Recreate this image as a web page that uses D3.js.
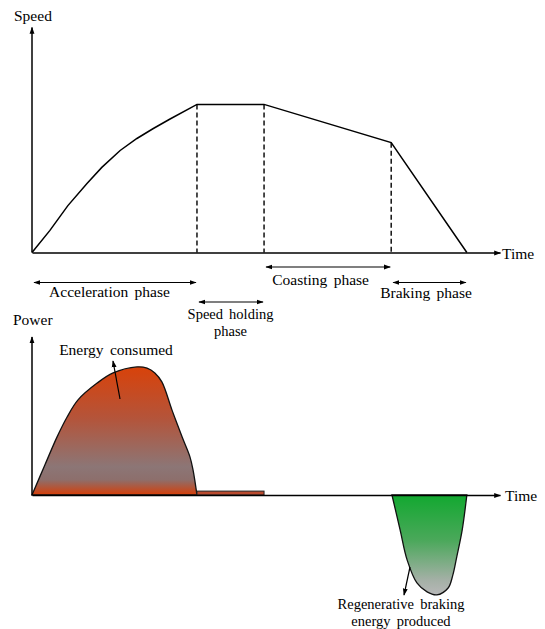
<!DOCTYPE html>
<html lang="en">
  <head>
    <meta charset="utf-8">
    <title>Speed and power phases</title>
    <script src="https://cdn.jsdelivr.net/npm/d3@7"></script>
    <style>
      body { margin: 0; background: #fff; }
      text { font-family: "Liberation Serif", "DejaVu Serif", serif; font-size: 15.5px; word-spacing: 2.5px; fill: #000; }
      text.two { font-size: 14.5px; }
    </style>
  </head>
  <body>
    <svg width="545" height="629" id="mainsvg"></svg>
    <script>
      // speed profile (time, speed)
      const speedTime = [0, 4.6, 9.2, 14.1, 17.9, 22.6, 26.9, 31, 35.4, 42.3, 59.5, 92.1, 111.5];
      const speedValue = [0, 5.9, 12.5, 18.4, 22.7, 27.2, 30.4, 33.0, 35.6, 39.5, 39.5, 29.3, 0];
      // phase boundaries drawn as dashed lines
      const boundaryTimes = [42.3, 59.5, 92.1];
      // phase spans
      const phaseNames = ['Acceleration phase', 'Speed holding|phase', 'Coasting phase', 'Braking phase'];
      const phaseStart = [0, 42.3, 59.5, 92.1];
      const phaseEnd = [42.3, 59.5, 92.1, 111.5];
      // power consumed during acceleration
      const accTime = [0, 3.3, 6.4, 9.0, 11.8, 16.7, 20.8, 26.9, 29.5, 31.5, 33.3, 35.9, 38.5, 40.5, 41.3, 42.3];
      const accPower = [0, 10, 19.3, 26, 31.7, 37.3, 40.7, 42.7, 42.3, 40.7, 37.7, 28.3, 19.3, 12.7, 8.3, 0];
      // power while holding speed
      const holdPower = 1.3;
      // regenerative braking power
      const brakeTime = [92.3, 94.4, 96.2, 98.7, 101.3, 103.8, 106.7, 107.9, 108.9, 110.3, 111.5];
      const brakePower = [0, -11.7, -21.7, -29.3, -32.3, -33.3, -31, -26.7, -20.7, -11.7, 0];
      // annotation texts
      const consumedLabel = ['Energy consumed'];
      const producedLabel = ['Regenerative braking', 'energy produced'];

      const svg = d3.select('#mainsvg');
      const defs = svg.append('defs');

      defs.append('marker')
        .attr('id', 'head')
        .attr('viewBox', '0 0 10 10')
        .attr('refX', 9).attr('refY', 5)
        .attr('markerWidth', 7).attr('markerHeight', 7)
        .attr('markerUnits', 'userSpaceOnUse')
        .attr('orient', 'auto-start-reverse')
        .append('path').attr('d', 'M0,1.5L10,5L0,8.5Z').attr('fill', '#000');

      const xScale = d3.scaleLinear().domain([0, 120]).range([32, 500]);
      const ySpeed = d3.scaleLinear().domain([0, 60]).range([252.5, 27.5]);
      const yPower = d3.scaleLinear().domain([-36, 54]).range([603, 333]);

      // text lines, one element each
      const multiText = (sel, lines, x, y, gap) => {
        lines.forEach((line, j) => {
          sel.append('text').text(line)
            .attr('class', lines.length > 1 ? 'two' : null)
            .attr('x', x).attr('y', y + j * gap)
            .attr('text-anchor', 'middle');
        });
      };

      // gradients
      const gRed = defs.append('linearGradient').attr('id', 'gradRed')
        .attr('gradientUnits', 'userSpaceOnUse')
        .attr('x1', 0).attr('x2', 0)
        .attr('y1', yPower(d3.max(accPower))).attr('y2', yPower(0));
      [[0, '#d8420a'], [0.4, '#b4543a'], [0.78, '#8c7676'], [0.88, '#8d6f6c'], [1, '#d63e08']]
        .forEach(s => gRed.append('stop').attr('offset', s[0]).attr('stop-color', s[1]));
      const gGreen = defs.append('linearGradient').attr('id', 'gradGreen')
        .attr('gradientUnits', 'userSpaceOnUse')
        .attr('x1', 0).attr('x2', 0)
        .attr('y1', yPower(0)).attr('y2', yPower(d3.min(brakePower)));
      [[0, '#12a830'], [0.45, '#4aa85a'], [0.85, '#a4b0a6'], [1, '#b8b8b8']]
        .forEach(s => gGreen.append('stop').attr('offset', s[0]).attr('stop-color', s[1]));

      // ---- speed chart ----
      const gSpeed = svg.append('g');
      const xAxisTop = gSpeed.append('g')
        .attr('transform', `translate(0, ${ySpeed(0)})`)
        .call(d3.axisBottom(xScale).tickValues([]).tickSizeOuter(0));
      xAxisTop.select('.domain').attr('stroke', '#000').attr('stroke-width', 1.5).attr('marker-end', 'url(#head)');
      const yAxisTop = gSpeed.append('g')
        .attr('transform', `translate(${xScale(0)}, 0)`)
        .call(d3.axisLeft(ySpeed).tickValues([]).tickSizeOuter(0));
      yAxisTop.select('.domain')
        .attr('d', `M0,${ySpeed(0)}V${ySpeed(60)}`)
        .attr('stroke', '#000').attr('stroke-width', 1.5).attr('marker-end', 'url(#head)');

      const speedData = speedTime.map((t, i) => ({ t: t, v: speedValue[i] }));
      gSpeed.append('path')
        .datum(speedData)
        .attr('fill', 'none')
        .attr('stroke', '#000')
        .attr('stroke-width', 1.5)
        .attr('d', d3.line().x(d => xScale(d.t)).y(d => ySpeed(d.v)));

      const speedAt = t => speedValue[speedTime.indexOf(t)];
      gSpeed.selectAll('.boundary')
        .data(boundaryTimes)
        .enter().append('line')
        .attr('class', 'boundary')
        .attr('x1', d => xScale(d)).attr('x2', d => xScale(d))
        .attr('y1', d => ySpeed(speedAt(d))).attr('y2', ySpeed(0))
        .attr('stroke', '#000').attr('stroke-width', 1.4)
        .attr('stroke-dasharray', '5,3');

      gSpeed.append('text').text('Speed').attr('x', 14).attr('y', 21);
      gSpeed.append('text').text('Time').attr('x', 502).attr('y', 259);

      // phase labels
      const arrowY = [282.5, 302, 267, 282.5];
      const labelY = [297, 319, 285, 298];
      const labelDx = [-5, 0, -7, -3];
      const phases = gSpeed.selectAll('.phase')
        .data(phaseNames)
        .enter().append('g')
        .attr('class', 'phase');
      phases.append('line')
        .attr('x1', (d, i) => xScale(phaseStart[i]) + 2)
        .attr('x2', (d, i) => xScale(phaseEnd[i]) - 1)
        .attr('y1', (d, i) => arrowY[i]).attr('y2', (d, i) => arrowY[i])
        .attr('stroke', '#000').attr('stroke-width', 1.2)
        .attr('marker-start', 'url(#head)')
        .attr('marker-end', 'url(#head)');
      phases.each(function (d, i) {
        const cx = (xScale(phaseStart[i]) + xScale(phaseEnd[i])) / 2 + labelDx[i];
        multiText(d3.select(this), d.split('|'), cx, labelY[i], 16.5);
      });

      // ---- power chart ----
      const gPower = svg.append('g');
      const accData = accTime.map((t, i) => ({ t: t, p: accPower[i] }));
      gPower.append('path')
        .datum(accData)
        .attr('fill', 'url(#gradRed)')
        .attr('stroke', '#111')
        .attr('stroke-width', 1.3)
        .attr('d', d3.area().curve(d3.curveCatmullRom).x(d => xScale(d.t)).y0(yPower(0)).y1(d => yPower(d.p)));

      gPower.append('rect')
        .attr('x', xScale(phaseStart[1]))
        .attr('y', yPower(holdPower))
        .attr('width', xScale(phaseEnd[1]) - xScale(phaseStart[1]))
        .attr('height', yPower(0) - yPower(holdPower))
        .attr('fill', '#b94a2e')
        .attr('stroke', '#222')
        .attr('stroke-width', 1);

      const brakeData = brakeTime.map((t, i) => ({ t: t, p: brakePower[i] }));
      gPower.append('path')
        .datum(brakeData)
        .attr('fill', 'url(#gradGreen)')
        .attr('stroke', '#111')
        .attr('stroke-width', 1.3)
        .attr('d', d3.area().curve(d3.curveCatmullRom).x(d => xScale(d.t)).y0(yPower(0)).y1(d => yPower(d.p)));

      const xAxisBot = gPower.append('g')
        .attr('transform', `translate(0, ${yPower(0)})`)
        .call(d3.axisBottom(xScale).tickValues([]).tickSizeOuter(0));
      xAxisBot.select('.domain').attr('stroke', '#000').attr('stroke-width', 1.5).attr('marker-end', 'url(#head)');
      const yAxisBot = gPower.append('g')
        .attr('transform', `translate(${xScale(0)}, 0)`)
        .call(d3.axisLeft(yPower).tickValues([]).tickSizeOuter(0));
      yAxisBot.select('.domain')
        .attr('d', `M0,${yPower(0)}V${yPower(52.7)}`)
        .attr('stroke', '#000').attr('stroke-width', 1.5).attr('marker-end', 'url(#head)');

      gPower.append('text').text('Power').attr('x', 13).attr('y', 325);
      gPower.append('text').text('Time').attr('x', 505).attr('y', 501);

      // annotations
      multiText(gPower, consumedLabel, 116, 355, 0);
      gPower.append('line')
        .attr('x1', 120).attr('y1', 399).attr('x2', 113).attr('y2', 361)
        .attr('stroke', '#000').attr('stroke-width', 1.2)
        .attr('marker-end', 'url(#head)');
      multiText(gPower, producedLabel, 401, 609, 16.5);
      gPower.append('line')
        .attr('x1', 410).attr('y1', 567).attr('x2', 404).attr('y2', 595)
        .attr('stroke', '#000').attr('stroke-width', 1.2)
        .attr('marker-end', 'url(#head)');
    </script>
  </body>
</html>
